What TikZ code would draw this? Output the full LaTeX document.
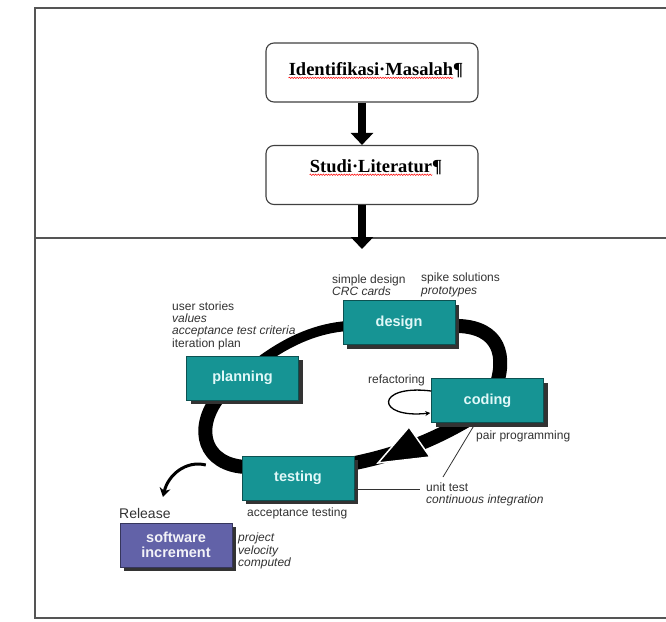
\documentclass[tikz,border=0pt]{standalone}
\usepackage{fontspec}
\setmainfont{Liberation Sans}
\newfontfamily\serifbold{Liberation Serif}
\usetikzlibrary{arrows.meta,decorations.pathmorphing,shadows}
\definecolor{tealc}{RGB}{22,148,148}
\definecolor{purplec}{RGB}{98,98,168}
\definecolor{boxtext}{RGB}{225,248,248}
\definecolor{labelc}{RGB}{50,50,50}
\definecolor{framec}{RGB}{85,85,85}
\tikzset{
  frameline/.style={draw=framec, line width=1.5pt},
  topbox/.style={rectangle, rounded corners=8pt, draw=black!75, line width=1.1pt, fill=white,
    minimum width=212pt, minimum height=59pt, inner sep=0pt},
  toptext/.style={font=\serifbold\bfseries\fontsize{18.5}{20}\selectfont, inner sep=0pt},
  wavy/.style={draw=red, line width=0.5pt, decorate, decoration={snake, amplitude=0.7pt, segment length=2.6pt}},
  bigarrow/.style={line width=8pt, -{Triangle[width=22pt,length=12pt]}},
  xpbox/.style={rectangle, minimum width=112pt, minimum height=44pt, inner sep=0pt,
    fill=tealc, draw=tealc!55!black, line width=0.6pt, text=boxtext,
    font=\bfseries\fontsize{14.5}{16}\selectfont, align=center,
    drop shadow={shadow xshift=4pt, shadow yshift=-4pt, fill=black!80, opacity=1}},
  relbox/.style={xpbox, fill=purplec, draw=purplec!55!black, text=white!92!purplec, font=\bfseries\fontsize{14.5}{15.5}\selectfont},
  lbl/.style={font=\fontsize{12}{12.3}\selectfont, text=labelc, align=left, inner sep=0pt, anchor=west},
  band/.style={draw=black, line cap=butt},
  leader/.style={draw=labelc, line width=0.8pt},
  slot/.style={minimum width=112pt, minimum height=44pt, inner sep=0pt},
}
\begin{document}
\begin{tikzpicture}[x=1pt,y=-1pt]
\useasboundingbox (0,0) rectangle (666,621);
% frame
\draw[frameline] (666,8) -- (35,8) -- (35,618) -- (666,618);
\draw[frameline] (35,238) -- (666,238);

% top flow
\node[topbox] (b1) at (372,72.5) {};
\node[topbox] (b2) at (372,175) {};
\node[toptext] (t1) at (376,70) {Identifikasi·Masalah¶};
\node[toptext] (t2) at (376,167) {Studi·Literatur¶};
\draw[wavy] ([yshift=-2.5pt]t1.base west) -- ([yshift=-2.5pt,xshift=-10pt]t1.base east);
\draw[wavy] ([yshift=-2.5pt]t2.base west) -- ([yshift=-2.5pt,xshift=-10pt]t2.base east);
\coordinate (tip2) at (362,249);
\draw[bigarrow] ([xshift=-10pt]b1.south) -- ([xshift=-10pt]b2.north);
\draw[bigarrow] ([xshift=-10pt]b2.south) -- (tip2);

% XP node slots (for the band, drawn under the boxes)
\node[slot] (design) at (399,322.5) {};
\node[slot] (planning) at (242.5,378) {};
\node[slot] (coding) at (487.5,400.5) {};
\node[slot] (testing) at (298,478) {};

\draw[band, line width=10pt] ([xshift=20pt,yshift=-4pt]planning.north) .. controls (290,340) and (318,328) .. ([xshift=5pt,yshift=-3.5pt]design.west);
\draw[band, line width=14pt] ([xshift=-5pt,yshift=-3.5pt]design.east) .. controls (495,324) and (507,350) .. ([xshift=9.5pt,yshift=-5pt]coding.north);
\draw[band, line width=14pt] ([xshift=-19.5pt,yshift=3pt]coding.south) .. controls (430,442) and (395,455) .. ([xshift=-4pt,yshift=14pt]testing.east);
\draw[band, line width=14pt] ([xshift=4pt,yshift=11pt]testing.west) .. controls (205,465) and (193,430) .. ([xshift=-23.5pt,yshift=4pt]planning.south);
% big arrowhead
\coordinate (ahtip) at (378,463);
\filldraw[fill=black, draw=white, line width=1.5pt] (409,427) -- (ahtip) -- (430,457) -- cycle;

% release arrow
\coordinate (reltip) at (163,497);
\draw[line width=3pt, -{Stealth[length=9pt,width=11pt]}] ([xshift=-36pt,yshift=13pt]testing.west) .. controls (186,460) and (168,475) .. (reltip);

% boxes
\node[xpbox] (designbox) at (design) {design};
\node[xpbox] (planningbox) at (planning) {planning};
\node[xpbox] (codingbox) at (coding) {coding};
\node[xpbox] (testingbox) at (testing) {testing};
\node[relbox] (software) at (176,545) {software\\increment};

% refactoring loop
\draw[line width=1.3pt, -{Stealth[length=5pt,width=5pt]}] ([yshift=9.5pt]codingbox.west) .. controls (375,384) and (375,419) .. ([xshift=-1pt,yshift=-12.5pt]codingbox.west);

% leader lines
\coordinate (utend) at (420,489);
\coordinate (diagend) at (443,477);
\draw[leader] ([yshift=-11pt]testingbox.east) -- (utend);
\draw[leader] ([xshift=-12.5pt,yshift=-1pt]codingbox.south) -- (diagend);

% labels
\node[lbl] (lplan) at (172,325.5) {user stories\\\itshape values\\\itshape acceptance test criteria\\iteration plan};
\node[lbl] (ldes1) at (332,285) {simple design\\\itshape CRC cards};
\node[lbl] (ldes2) at (421,285) {spike solutions\\\itshape prototypes};
\node[lbl] (lref) at (368,380) {refactoring};
\node[lbl] (lpair) at (476,436) {pair programming};
\node[lbl] (lunit) at (426,494.5) {unit test\\\itshape continuous integration};
\node[lbl] (lacc) at (247,513) {acceptance testing};
\node[lbl, font=\fontsize{14}{15}\selectfont] (lrel) at (119,513) {Release};
\node[lbl, font=\itshape\fontsize{12}{12.8}\selectfont] (lproj) at (238,551) {project\\velocity\\computed};
\end{tikzpicture}
\end{document}
